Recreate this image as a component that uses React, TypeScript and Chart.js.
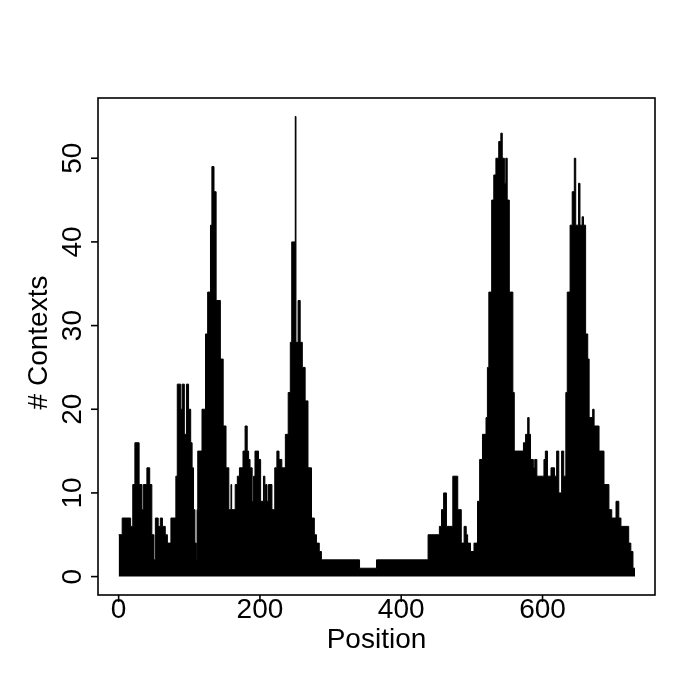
import React, { useEffect, useRef } from "react";
import { Chart, registerables } from "chart.js";

Chart.register(...registerables);

// Step profile: each run starts at segStart and holds segValue
const segStart = [
  0, 5, 17, 20, 23, 29, 33, 35, 40, 44, 47, 50, 52, 56, 59, 62, 66, 69, 74, 81,
  83, 88, 90, 93, 96, 99, 102, 104, 106, 108, 110, 111, 112, 118, 123, 126, 130, 132, 135, 138,
  144, 148, 152, 156, 159, 160, 165, 168, 171, 176, 179, 182, 184, 186, 189, 191, 193, 198, 201, 205,
  207, 208, 210, 212, 217, 221, 224, 227, 231, 236, 240, 243, 245, 250, 251, 254, 257, 260, 264, 268,
  273, 277, 280, 284, 287, 341, 365, 438, 454, 457, 460, 464, 473, 480, 485, 489, 492, 494, 498, 503,
  508, 511, 515, 520, 522, 524, 528, 531, 534, 538, 541, 543, 546, 548, 550, 553, 558, 560, 573, 576,
  579, 581, 583, 587, 589, 592, 602, 604, 607, 612, 617, 620, 623, 627, 630, 633, 635, 639, 642, 645,
  647, 651, 653, 656, 658, 661, 664, 666, 671, 673, 680, 687, 694, 698, 704, 708, 711, 722, 725, 728,
];
const segValue = [
  5, 7, 6, 11, 16, 11, 8, 11, 13, 11, 5, 2, 7, 6, 7, 6, 5, 4, 7, 12,
  23, 20, 23, 17, 23, 20, 16, 13, 8, 4, 2, 8, 15, 20, 29, 34, 42, 49, 46, 33,
  26, 18, 13, 8, 11, 8, 11, 12, 13, 15, 18, 15, 14, 13, 9, 12, 15, 14, 9, 12,
  9, 11, 9, 11, 8, 13, 15, 14, 13, 17, 22, 28, 40, 55, 28, 33, 28, 25, 21, 13,
  7, 5, 4, 3, 2, 1, 2, 5, 6, 8, 10, 6, 12, 8, 4, 6, 5, 4, 3, 4,
  9, 14, 17, 19, 25, 34, 45, 48, 50, 52, 53, 50, 47, 50, 45, 34, 22, 15, 16, 17,
  19, 17, 14, 13, 14, 12, 14, 15, 12, 13, 12, 15, 10, 15, 12, 22, 34, 42, 46, 50,
  42, 47, 42, 43, 42, 29, 26, 19, 20, 18, 15, 11, 8, 7, 9, 7, 6, 4, 3, 1,
];
const endPosition = 731;

const xTickValues = [0, 200, 400, 600];
const yTickValues = [0, 10, 20, 30, 40, 50];
const xTitle = "Position";
const yTitle = "# Contexts";

const FONT = '28px "Liberation Sans", Arial, Helvetica, sans-serif';

const axesPlugin = {
  id: "rAxes",
  afterDraw(chart: any) {
    const ctx = chart.ctx;
    const { left, right, top, bottom } = chart.chartArea;
    const xs = chart.scales.x;
    const ys = chart.scales.y;
    ctx.save();
    ctx.strokeStyle = "#000";
    ctx.fillStyle = "#000";
    ctx.lineWidth = 1.6;
    ctx.strokeRect(left, top, right - left, bottom - top);
    ctx.font = FONT;
    // x ticks
    ctx.textAlign = "center";
    ctx.textBaseline = "alphabetic";
    xTickValues.forEach((v) => {
      const px = xs.getPixelForValue(v);
      ctx.beginPath();
      ctx.moveTo(px, bottom);
      ctx.lineTo(px, bottom + 7);
      ctx.stroke();
      ctx.fillText(String(v), px, bottom + 23);
    });
    ctx.fillText(xTitle, (left + right) / 2, bottom + 53);
    // y ticks
    yTickValues.forEach((v) => {
      const py = ys.getPixelForValue(v);
      ctx.beginPath();
      ctx.moveTo(left - 7, py);
      ctx.lineTo(left, py);
      ctx.stroke();
      ctx.save();
      ctx.translate(left - 17, py);
      ctx.rotate(-Math.PI / 2);
      ctx.fillText(String(v), 0, 0);
      ctx.restore();
    });
    ctx.save();
    ctx.translate(left - 51, (top + bottom) / 2 - 4);
    ctx.rotate(-Math.PI / 2);
    ctx.fillText(yTitle, 0, 0);
    ctx.restore();
    ctx.restore();
  },
};

export default function App() {
  const ref = useRef<HTMLCanvasElement | null>(null);
  useEffect(() => {
    if (!ref.current) return;
    const pts = segStart.map((s, i) => ({ x: s, y: segValue[i] }));
    pts.push({ x: endPosition, y: segValue[segValue.length - 1] });
    const chart = new Chart(ref.current, {
      type: "line",
      data: {
        datasets: [
          {
            data: pts,
            stepped: "before",
            fill: "origin",
            borderColor: "#000",
            backgroundColor: "#000",
            borderWidth: 1,
            pointRadius: 0,
            tension: 0,
          },
        ],
      },
      options: {
        responsive: false,
        animation: false,
        layout: { padding: { left: 98, top: 98, right: 30, bottom: 90 } },
        plugins: { legend: { display: false }, tooltip: { enabled: false } },
        scales: {
          x: { type: "linear", min: -29.2, max: 759.2, display: false },
          y: { type: "linear", min: -2.2, max: 57.2, display: false },
        },
      },
      plugins: [axesPlugin],
    });
    return () => chart.destroy();
  }, []);
  return (
    <div style={{ position: "absolute", left: 0, top: 0, width: 685, height: 685, background: "#fff" }}>
      <canvas ref={ref} width={685} height={685} style={{ display: "block" }} />
    </div>
  );
}
